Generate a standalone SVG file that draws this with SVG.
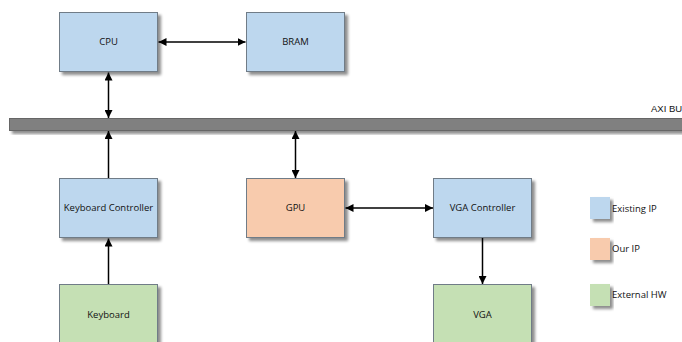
<svg xmlns="http://www.w3.org/2000/svg" width="682" height="342" viewBox="0 0 682 342">
  <defs>
    <filter id="shadow" x="-10%" y="-10%" width="130%" height="140%">
      <feGaussianBlur in="SourceAlpha" stdDeviation="1.5"/>
      <feOffset dx="2.5" dy="2.5" result="blur"/>
      <feComponentTransfer><feFuncA type="linear" slope="0.45"/></feComponentTransfer>
      <feMerge><feMergeNode/><feMergeNode in="SourceGraphic"/></feMerge>
    </filter>
    <marker id="arrow" viewBox="0 0 10 10" refX="10" refY="5" markerWidth="8" markerHeight="8" markerUnits="userSpaceOnUse" orient="auto-start-reverse">
      <path d="M0,0 L10,5 L0,10 Z" fill="#000"/>
    </marker>
  </defs>
  <style>
    .box { stroke: #6f7b87; stroke-width: 1; filter: url(#shadow); }
    .existing { fill: #bdd7ee; }
    .ours { fill: #f8cbad; }
    .external { fill: #c5e0b4; }
    .label { font-family: "Open Sans", "Noto Sans", sans-serif; font-size: 9.5px; fill: #111; text-anchor: middle; }
    .legend { font-family: "Open Sans", "Noto Sans", sans-serif; font-size: 9.5px; fill: #111; }
    .wire { stroke: #000; stroke-width: 1.5; fill: none; marker-end: url(#arrow); }
    .both { marker-start: url(#arrow); }
  </style>

  <rect width="682" height="342" fill="#fff"/>

  <!-- AXI bus -->
  <g id="axi-bus">
    <rect x="9.5" y="118.5" width="680" height="12" fill="#808080" stroke="#666" stroke-width="1" filter="url(#shadow)"/>
    <text x="651" y="112" font-family="Liberation Sans, Arial, sans-serif" font-size="9.5" fill="#111">AXI BU</text>
  </g>

  <g id="cpu">
    <rect class="box existing" x="59.5" y="12.5" width="98" height="59"/>
    <text class="label" x="108.5" y="44.5">CPU</text>
  </g>
  <g id="bram">
    <rect class="box existing" x="246.5" y="12.5" width="98" height="59"/>
    <text class="label" x="295.5" y="44.5">BRAM</text>
  </g>
  <g id="keyboard-controller">
    <rect class="box existing" x="59.5" y="178.5" width="98" height="59"/>
    <text class="label" x="108.5" y="210.5">Keyboard Controller</text>
  </g>
  <g id="gpu">
    <rect class="box ours" x="246.5" y="178.5" width="98" height="59"/>
    <text class="label" x="295.5" y="210.5">GPU</text>
  </g>
  <g id="vga-controller">
    <rect class="box existing" x="433.5" y="178.5" width="98" height="59"/>
    <text class="label" x="482.5" y="210.5">VGA Controller</text>
  </g>
  <g id="keyboard">
    <rect class="box external" x="59.5" y="284.5" width="98" height="70"/>
    <text class="label" x="108.5" y="317.5">Keyboard</text>
  </g>
  <g id="vga">
    <rect class="box external" x="433.5" y="284.5" width="98" height="70"/>
    <text class="label" x="482.5" y="317.5">VGA</text>
  </g>

  <!-- legend -->
  <g id="legend">
    <rect class="existing" x="590" y="197" width="20" height="22" filter="url(#shadow)"/>
    <text class="legend" x="612" y="212">Existing IP</text>
    <rect class="ours" x="590" y="238" width="20" height="22" filter="url(#shadow)"/>
    <text class="legend" x="612" y="252">Our IP</text>
    <rect class="external" x="590" y="284" width="20" height="22" filter="url(#shadow)"/>
    <text class="legend" x="612" y="298">External HW</text>
  </g>

  <g id="connectors">
    <line class="wire both" x1="158.5" y1="42" x2="245.5" y2="42"/>
    <line class="wire both" x1="108.5" y1="72.5" x2="108.5" y2="118"/>
    <line class="wire" x1="108.5" y1="178" x2="108.5" y2="131"/>
    <line class="wire both" x1="295.5" y1="131" x2="295.5" y2="178"/>
    <line class="wire" x1="108.5" y1="284" x2="108.5" y2="238.5"/>
    <line class="wire both" x1="345.5" y1="208" x2="433" y2="208"/>
    <line class="wire" x1="482.5" y1="238" x2="482.5" y2="284"/>
  </g>
</svg>
